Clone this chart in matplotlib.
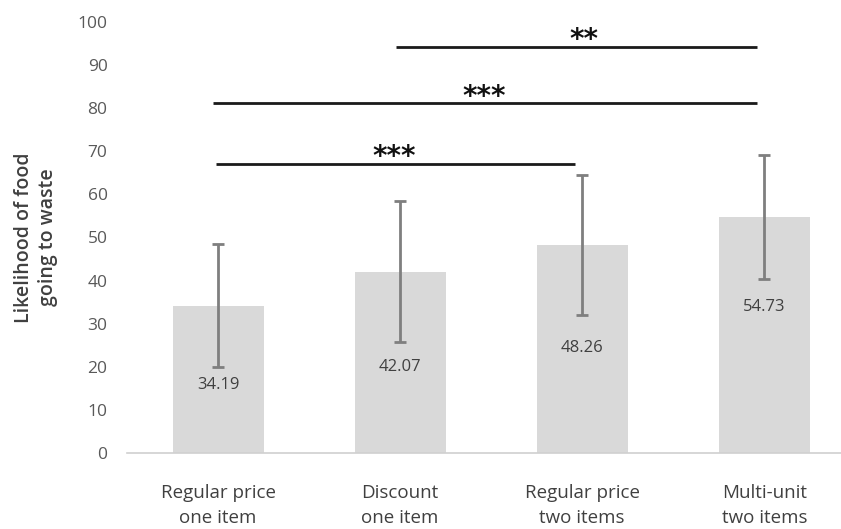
import numpy as np
import matplotlib
matplotlib.use('Agg')
import matplotlib.pyplot as plt

plt.rcParams['font.family'] = ['Open Sans', 'DejaVu Sans']

# data
categories = ['Regular price\none item', 'Discount\none item',
              'Regular price\ntwo items', 'Multi-unit\ntwo items']
means = [34.19, 42.07, 48.26, 54.73]
errors = [14.3, 16.3, 16.2, 14.4]
label_y = [15.8, 20.0, 24.4, 33.9]   # where the value labels sit

# significance brackets: (start, end, height, text)
sig_start = [0.98, -0.03, -0.01]
sig_end = [2.96, 2.96, 1.96]
sig_height = [94.3, 81.2, 67.1]
sig_text = ['**', '***', '***']
sig_text_x = [2.01, 1.46, 0.97]

fig = plt.figure(figsize=(8.41, 5.29), dpi=100)
ax = fig.add_axes([0.151, 0.1437, 0.866, 0.8147])

x = np.arange(len(categories))
ax.bar(x, means, width=0.5, color='#d9d9d9', zorder=1)
ax.errorbar(x, means, yerr=errors, fmt='none', ecolor='#7f7f7f',
            elinewidth=2, capsize=4, capthick=2, zorder=2)

for xi, m, ly in zip(x, means, label_y):
    ax.text(xi, ly, '%.2f' % m, ha='center', va='center',
            fontsize=12, color='#404040', zorder=3)

for s, e, h, t, tx in zip(sig_start, sig_end, sig_height, sig_text, sig_text_x):
    ax.plot([s, e], [h, h], color='#1a1a1a', lw=2, solid_capstyle='butt', zorder=3)
    ax.text(tx, h + 1.5, t, ha='center', va='center', fontsize=20,
            fontweight='bold', color='#111111', family='DejaVu Sans')

ax.set_xlim(-0.5, 3.5)
ax.set_ylim(0, 100)
ax.set_yticks(range(0, 101, 10))
ax.set_xticks(x)
ax.set_xticklabels(categories, fontsize=13.5, color='#404040', linespacing=1.5)
ax.tick_params(axis='y', length=0, labelsize=12.5, labelcolor='#595959', pad=14)
ax.tick_params(axis='x', length=0, pad=22)

for side in ['top', 'right', 'left']:
    ax.spines[side].set_visible(False)
ax.spines['bottom'].set_color('#d0d0d0')
ax.spines['bottom'].set_linewidth(1.2)

ax.set_ylabel('Likelihood of food\ngoing to waste', fontsize=14, color='#404040',
              fontweight='semibold', labelpad=14, linespacing=1.3)

fig.savefig('out.png', dpi=100, facecolor='white')
